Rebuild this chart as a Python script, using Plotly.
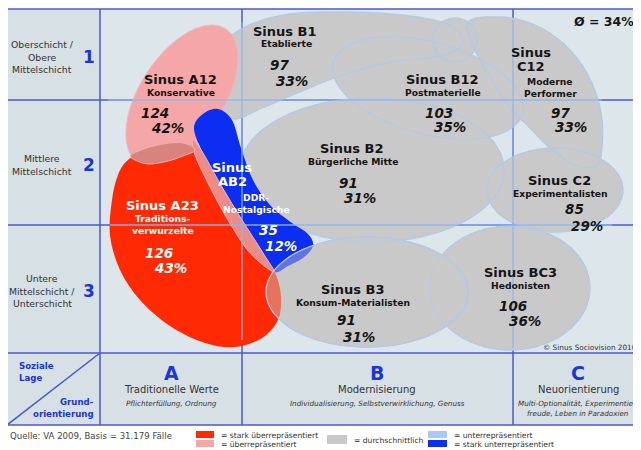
import math
import plotly.graph_objects as go

# ---------------- data ----------------
milieu_codes = ["A12", "B1", "B12", "C12", "AB2", "A23", "B2", "C2", "B3", "BC3"]
milieu_names = ["Konservative", "Etablierte", "Postmaterielle", "Moderne\nPerformer",
                "DDR-\nNostalgische", "Traditions-\nverwurzelte", "Bürgerliche Mitte",
                "Experimentalisten", "Konsum-Materialisten", "Hedonisten"]
index_values = [124, 97, 103, 97, 35, 126, 91, 85, 91, 106]
percent_values = [42, 33, 35, 33, 12, 43, 31, 29, 31, 36]
representation = ["ueber", "mittel", "mittel", "mittel", "stark_unter", "stark_ueber",
                  "mittel", "mittel", "mittel", "mittel"]
average_percent = 34

row_labels = ["Oberschicht /\nObere\nMittelschicht", "Mittlere\nMittelschicht",
              "Untere\nMittelschicht /\nUnterschicht"]
row_numbers = ["1", "2", "3"]
col_letters = ["A", "B", "C"]
col_titles = ["Traditionelle Werte", "Modernisierung", "Neuorientierung"]
col_subtitles = ["Pflichterfüllung, Ordnung",
                 "Individualisierung, Selbstverwirklichung, Genuss",
                 "Multi-Optionalität, Experimentier-\nfreude, Leben in Paradoxien"]
legend_keys = ["stark_ueber", "ueber", "mittel", "unter", "stark_unter"]
legend_labels = ["= stark überrepräsentiert", "= überrepräsentiert", "= durchschnittlich",
                 "= unterrepräsentiert", "= stark unterrepräsentiert"]
source_text = "Quelle: VA 2009, Basis = 31.179 Fälle"
copyright_text = "© Sinus Sociovision 2010"

# ---------------- styles / layout ----------------
FONT = "DejaVu Sans"
BLUE_TXT = "#1a35d8"
DARK_LINE = "#4a5acb"
LIGHT_LINE = "#8fb6ec"
OUTLINE = "#b2c9e8"
colors = {"stark_ueber": "#ff2a04", "ueber": "#f5a6a6", "mittel": "#c9c9c9",
          "unter": "#a9c8f2", "stark_unter": "#0b2ef2"}
BG_MAP = "#dde6ea"
BG_SIDE = "#d7e0e4"

X0, X1, X2, X3, XR = 7, 100, 242, 513, 641
Y0, Y1, Y2, Y3, YB = 9, 100, 225, 353, 425
PAGE_OFF = 8  # default body margin of the html page


def smooth_path(pts):
    n = len(pts)
    d = f"M {pts[0][0]},{pts[0][1]}"
    for i in range(n):
        p0, p1, p2, p3 = pts[(i - 1) % n], pts[i], pts[(i + 1) % n], pts[(i + 2) % n]
        c1 = (p1[0] + (p2[0] - p0[0]) / 6, p1[1] + (p2[1] - p0[1]) / 6)
        c2 = (p2[0] - (p3[0] - p1[0]) / 6, p2[1] - (p3[1] - p1[1]) / 6)
        d += f" C {c1[0]:.1f},{c1[1]:.1f} {c2[0]:.1f},{c2[1]:.1f} {p2[0]:.1f},{p2[1]:.1f}"
    return d + " Z"


def ellipse_path(cx, cy, rx, ry, ang=0.0, n=90):
    a = math.radians(ang)
    pts = []
    for k in range(n):
        t = 2 * math.pi * k / n
        x = cx + rx * math.cos(t) * math.cos(a) - ry * math.sin(t) * math.sin(a)
        y = cy + rx * math.cos(t) * math.sin(a) + ry * math.sin(t) * math.cos(a)
        pts.append((x, y))
    return "M " + " L ".join(f"{x:.1f},{y:.1f}" for x, y in pts) + " Z"


# milieu outlines (geometry only)
geom = {
    "B1": smooth_path([(212, 78), (220, 48), (245, 27), (290, 14), (350, 12), (410, 16),
                       (452, 26), (462, 45), (440, 56), (390, 62), (340, 76), (300, 92),
                       (262, 108), (234, 119), (217, 102)]),
    "BUMP": ellipse_path(455, 40, 22, 22),
    "B12": ellipse_path(428, 88, 98, 46, 15),
    "C12": smooth_path([(468, 22), (500, 17), (535, 25), (565, 45), (588, 75), (601, 112),
                        (602, 148), (596, 166), (575, 165), (550, 148), (530, 128),
                        (510, 108), (492, 80), (476, 52)]),
    "C2": ellipse_path(555, 190, 68, 42),
    "B2": ellipse_path(372, 170, 132, 72),
    "BC3": ellipse_path(510, 288, 80, 62),
    "B3": ellipse_path(367, 292, 101, 55),
    "A12": ellipse_path(182, 96, 80, 42, -57),
    "A23": smooth_path([(128, 160), (150, 148), (175, 143), (192, 146), (203, 153),
                        (222, 187), (242, 220), (263, 253), (276, 275), (281, 297),
                        (278, 320), (262, 338), (235, 347), (205, 343), (170, 326),
                        (140, 300), (120, 270), (110, 235), (112, 200), (118, 175)]),
    "AB2": smooth_path([(194, 128), (203, 114), (218, 109), (232, 120), (241, 148),
                        (253, 180), (270, 205), (292, 223), (308, 234), (313, 246),
                        (303, 258), (288, 266), (274, 272), (263, 253), (242, 220),
                        (222, 187), (203, 153)]),
    "STRIP": smooth_path([(193, 140), (203, 153), (222, 187), (242, 220), (263, 253),
                          (274, 272), (250, 253), (228, 220), (210, 187), (195, 155)]),
    "LENS": smooth_path([(131, 155), (150, 147), (170, 143), (183, 143), (195, 150),
                         (183, 156), (168, 161), (150, 164), (137, 161)]),
}

# label placement: title lines centre, name lines centre, index left, percent left
label_pos = {
    "A12": ((180, 79), (181, 92), (139, 113), (149, 128)),
    "B1": ((285, 31), (286, 43), (268, 65), (274, 81)),
    "B12": ((442, 79), (443, 92), (423, 113), (432, 127)),
    "C12": ((531, 52), (550, 81), (549, 113), (553, 127)),
    "AB2": ((232, 167), (256, 197), (257, 230), (263, 246)),
    "A23": ((162, 205), (163, 218), (143, 253), (152, 268)),
    "B2": ((352, 148), (353, 161), (337, 183), (342, 198)),
    "C2": ((559, 180), (560, 193), (563, 209), (569, 226)),
    "B3": ((353, 289), (353, 302), (335, 320), (341, 337)),
    "BC3": ((520, 272), (520, 285), (497, 306), (507, 321)),
}
split_title = {"C12", "AB2"}

shapes = []
ann = []


def rect(x0, y0, x1, y1, fill, line=None, width=0):
    shapes.append(dict(type="rect", xref="x", yref="y", x0=x0, y0=y0, x1=x1, y1=y1,
                       fillcolor=fill, line=dict(color=line or fill, width=width)))


def line(x0, y0, x1, y1, color, width=1.5, opacity=1.0):
    shapes.append(dict(type="line", xref="x", yref="y", x0=x0, y0=y0, x1=x1, y1=y1,
                       line=dict(color=color, width=width), opacity=opacity))


def path(d, fill, lcolor=None, lwidth=0, opacity=1.0):
    shapes.append(dict(type="path", xref="x", yref="y", path=d, fillcolor=fill,
                       opacity=opacity,
                       line=dict(color=lcolor or "rgba(0,0,0,0)", width=lwidth)))


def text(x, y, s, size, color="#222", xanchor="center", bold=False, italic=False):
    if bold:
        s = f"<b>{s}</b>"
    if italic:
        s = f"<i>{s}</i>"
    ann.append(dict(x=x, y=y, xref="x", yref="y", text=s, showarrow=False,
                    xanchor=xanchor, yanchor="middle",
                    font=dict(family=FONT, size=size, color=color)))


# backgrounds
rect(X1, Y0, XR + 20, Y3, BG_MAP)
rect(X0, Y0, X1, YB, BG_SIDE)
rect(X1, Y3, XR + 20, YB, BG_SIDE)

# dark grid
for (a, b, c, d) in [(X0, Y0, XR + 20, Y0), (X0, YB, XR + 20, YB), (X0, Y0, X0, YB),
                     (X1, Y0, X1, YB), (X2, Y0, X2, YB), (X3, Y0, X3, YB),
                     (X0, Y1, XR + 20, Y1), (X0, Y2, XR + 20, Y2), (X0, Y3, XR + 20, Y3),
                     (X0, YB, X1, Y3)]:
    line(a, b, c, d, DARK_LINE, 1.5)

# gray milieus
gray_order = ["B1", "BUMP", "B12", "C12", "C2", "B2", "BC3", "B3"]
for g in gray_order:
    path(geom[g], colors["mittel"])
for g in gray_order:
    path(geom[g], "rgba(0,0,0,0)", OUTLINE, 1.3)

# coloured milieus
rep = dict(zip(milieu_codes, representation))
path(geom["A12"], colors[rep["A12"]], "#e9b9c4", 1)
path(geom["A23"], colors[rep["A23"]])
path(geom["AB2"], colors[rep["AB2"]])
path(geom["STRIP"], "#ea8c88", "#f2b4b4", 1)
path(geom["LENS"], "#d9837e", "#e9b0b0", 1)
# B3 overlapping red / blue
path(geom["B3"], colors["mittel"], None, 0, opacity=0.45)
path(geom["B3"], "rgba(0,0,0,0)", OUTLINE, 1.3)

# light grid lines over milieus
line(108, Y1, 602, Y1, LIGHT_LINE, 1.3, 0.9)
line(110, Y2, 612, Y2, LIGHT_LINE, 1.3, 0.9)
line(X2, 22, X2, 340, LIGHT_LINE, 1.3, 0.9)
line(X3, 20, X3, 348, LIGHT_LINE, 1.3, 0.9)

# milieu labels
for code, name, idx, pct in zip(milieu_codes, milieu_names, index_values, percent_values):
    (tx, ty), (nx, ny), (ix, iy), (px, py) = label_pos[code]
    col = "#ffffff" if rep[code] in ("stark_ueber", "stark_unter") else "#151515"
    if code in split_title:
        text(tx, ty, "Sinus", 13, col, bold=True)
        text(tx, ty + 14, code, 13, col, bold=True)
    else:
        text(tx, ty, f"Sinus {code}", 13, col, bold=True)
    for k, ln in enumerate(name.split("\n")):
        text(nx, ny + 12.5 * k, ln, 9.2, col, bold=True)
    text(ix, iy, str(idx), 13.5, col, xanchor="left", bold=True, italic=True)
    text(px, py, f"{pct}%", 13.5, col, xanchor="left", bold=True, italic=True)

# row labels
row_centres = [57, 165, 291]
for lab, num, yc in zip(row_labels, row_numbers, row_centres):
    lines_ = lab.split("\n")
    n = len(lines_)
    for k, ln in enumerate(lines_):
        text(42, yc + (k - (n - 1) / 2) * 12.5, ln, 9.3, "#333")
    text(89, yc, num, 17, BLUE_TXT, bold=True)

# column labels
col_centres = [171, 377, 578]
for let, tit, sub, xc in zip(col_letters, col_titles, col_subtitles, col_centres):
    text(xc, 373, let, 19, BLUE_TXT, bold=True)
    text(xc, 389, tit, 10, "#333")
    for k, ln in enumerate(sub.split("\n")):
        text(xc, 403 + 10 * k, ln, 7.2, "#333", italic=True)

text(17, 366, "Soziale", 8.6, BLUE_TXT, xanchor="left", bold=True)
text(17, 378, "Lage", 8.6, BLUE_TXT, xanchor="left", bold=True)
text(96, 402, "Grund-", 8.6, BLUE_TXT, xanchor="right", bold=True)
text(96, 414, "orientierung", 8.6, BLUE_TXT, xanchor="right", bold=True)

text(572, 21, f"Ø = {average_percent}%", 12.5, "#151515", xanchor="left", bold=True)
text(541, 347, copyright_text, 7.3, "#333", xanchor="left")
text(8, 436, source_text, 8.6, "#444", xanchor="left")

# legend
legend_boxes = [(196, 431, 214, 438), (196, 440, 214, 447), (327, 435, 347, 444),
                (428, 431, 447, 438), (428, 440, 447, 447)]
legend_text_pos = [(219, 435), (219, 444), (352, 440), (452, 435), (452, 444)]
for key, lab, bx, tp in zip(legend_keys, legend_labels, legend_boxes, legend_text_pos):
    rect(*bx, colors[key])
    text(tp[0], tp[1], lab, 7.6, "#333", xanchor="left")

fig = go.Figure()
fig.update_layout(
    width=641 - PAGE_OFF, height=450 - PAGE_OFF, autosize=False,
    margin=dict(l=0, r=0, t=0, b=0),
    paper_bgcolor="white", plot_bgcolor="white",
    xaxis=dict(range=[PAGE_OFF, 641], visible=False, fixedrange=True),
    yaxis=dict(range=[450, PAGE_OFF], visible=False, fixedrange=True),
    shapes=shapes, annotations=ann, showlegend=False,
)
fig.write_html("out.html")
